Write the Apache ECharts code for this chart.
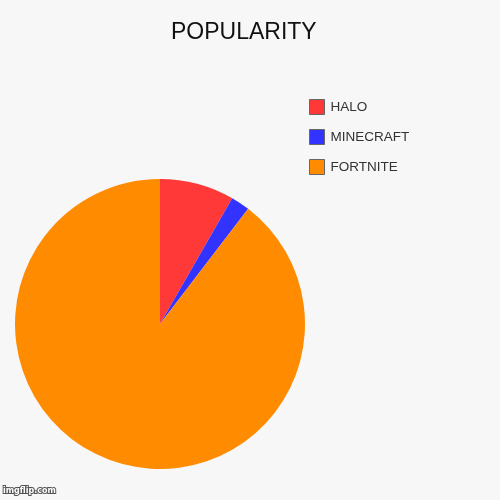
<!DOCTYPE html>
<html>
<head>
<meta charset="utf-8">
<script src="https://cdn.jsdelivr.net/npm/echarts@6/dist/echarts.min.js"></script>
<style>
  html, body { margin: 0; padding: 0; background: #f7f7f7; }
  #chart { width: 500px; height: 500px; }
</style>
</head>
<body>
<div id="chart"></div>
<script>
// categories and values
var names = ['HALO', 'MINECRAFT', 'FORTNITE'];
var values = [8.3, 2.1, 89.6];
var colors = ['#ff3838', '#3333ff', '#ff8c00'];

var pieData = names.map(function (n, i) {
    return { name: n, value: values[i], itemStyle: { color: colors[i] } };
});

var myChart = echarts.init(document.getElementById('chart'));
myChart.setOption({
    backgroundColor: '#f7f7f7',
    animation: false,
    title: {
        text: 'POPULARITY',
        left: 166,
        top: 16,
        textStyle: {
            fontFamily: 'Liberation Sans',
            fontSize: 23,
            fontWeight: 'normal',
            color: '#111'
        }
    },
    legend: {
        orient: 'vertical',
        left: 304,
        top: 94,
        itemWidth: 15,
        itemHeight: 15,
        itemGap: 14,
        icon: 'rect',
        data: names,
        itemStyle: { borderColor: '#666', borderWidth: 1 },
        textStyle: {
            fontFamily: 'Liberation Sans',
            fontSize: 13.5,
            color: '#333',
            padding: [0, 0, 0, 1]
        }
    },
    graphic: [{
        type: 'text',
        left: 2,
        top: 486,
        style: {
            text: 'imgflip.com',
            font: 'bold 8px "DejaVu Sans"',
            fill: '#fff',
            stroke: '#555',
            lineWidth: 2
        }
    }],
    series: [{
        type: 'pie',
        center: [160, 324],
        radius: 145,
        startAngle: 90,
        clockwise: true,
        label: { show: false },
        labelLine: { show: false },
        emphasis: { disabled: true },
        itemStyle: { borderWidth: 0 },
        data: pieData
    }]
});
</script>
</body>
</html>
